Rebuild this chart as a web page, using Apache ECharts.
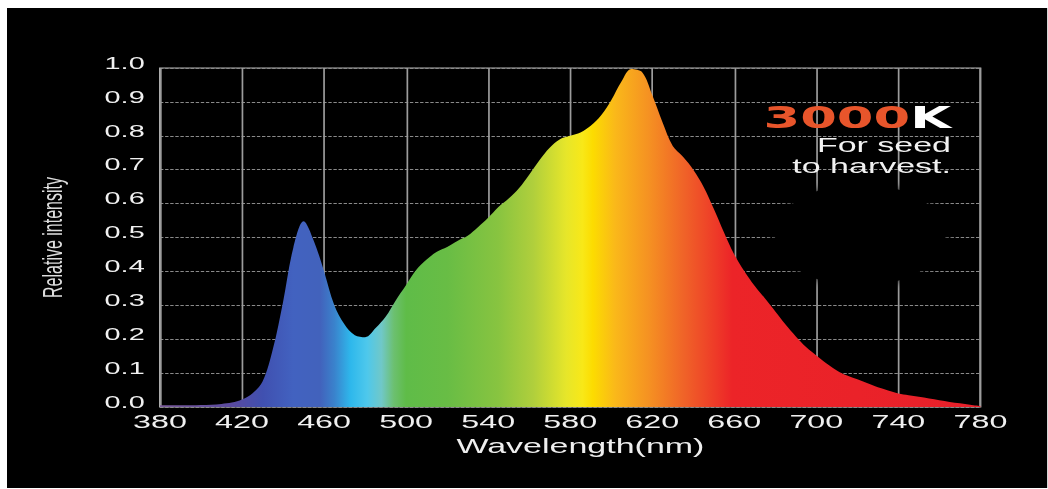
<!DOCTYPE html>
<html><head><meta charset="utf-8">
<script src="https://cdn.jsdelivr.net/npm/echarts@6/dist/echarts.min.js"></script>
<style>
html,body{margin:0;padding:0;background:#fff;width:1048px;height:489px;overflow:hidden;}
#chart{position:absolute;left:7px;top:8px;height:480px;transform-origin:0 0;}
</style></head><body><div id="chart"></div>
<script>
// ---- data ----
const wavelengths = [380,385,390,395,400,405,410,415,420,425,430,435,440,445,450,455,460,465,470,475,
  480,485,490,495,500,505,510,515,520,525,530,535,540,545,550,555,560,565,570,575,
  580,585,590,595,600,605,610,615,620,625,630,635,640,645,650,655,660,665,670,675,
  680,685,690,695,700,705,710,715,720,725,730,735,740,745,750,755,760,765,770,775,780];
const intensity = [0.005,0.005,0.005,0.005,0.006,0.007,0.009,0.013,0.022,0.040,0.075,0.170,0.310,0.470,0.548,0.490,0.400,0.300,0.243,0.212,
  0.206,0.232,0.266,0.315,0.360,0.405,0.435,0.458,0.472,0.490,0.505,0.530,0.558,0.590,0.615,0.645,0.685,0.728,0.765,0.790,
  0.800,0.810,0.830,0.860,0.905,0.960,0.997,0.988,0.920,0.840,0.770,0.738,0.700,0.650,0.585,0.515,0.450,0.400,0.357,0.320,
  0.282,0.243,0.208,0.177,0.152,0.128,0.108,0.093,0.082,0.070,0.058,0.049,0.040,0.035,0.030,0.025,0.020,0.015,0.011,0.007,0.003];
const xAxisTitle = 'Wavelength(nm)';
const yAxisTitle = 'Relative intensity';
const badgeNumber = '3000';
const badgeUnit = 'K';
const subtitleLines = ['For seed', 'to harvest.'];

// ---- styles ----
const spectrumStops = [
  [380,'#7a5a9a'],[415,'#5a4aa0'],[430,'#4050b0'],[445,'#4262c0'],[458,'#4262bc'],[465,'#3a82cc'],
  [473,'#2eb8ec'],[481,'#4ec8ec'],[488,'#70c8c8'],[494,'#6cc070'],[500,'#5fbc48'],[520,'#68bd45'],
  [545,'#88c440'],[562,'#b0cf3c'],[578,'#e6e62a'],[586,'#f8e818'],[591,'#fcdc00'],[602,'#fab81a'],
  [618,'#f59222'],[635,'#f06428'],[651,'#ee3a28'],[659,'#ec2428'],[780,'#e8202a']
];
const S = 1.7;            // horizontal stretch of the reference picture
const W = 1041 / S;
const el = document.getElementById('chart');
el.style.width = W + 'px';
el.style.transform = 'scaleX(' + S + ')';
const sx = X => (X - 7) / S;
const sy = Y => Y - 8;

const chart = echarts.init(el, null, {renderer: 'svg'});
const seriesData = wavelengths.map((w, i) => [w, intensity[i]]);
const plotLeft = sx(160), plotRight = sx(981);

chart.setOption({
  backgroundColor: '#000',
  animation: false,
  grid: {left: plotLeft, right: W - plotRight, top: sy(68), bottom: 480 - sy(407),
         show: true, borderColor: '#b8b8b8', borderWidth: 1.1, backgroundColor: 'transparent'},
  xAxis: {
    type: 'value', min: 380, max: 780, interval: 40,
    name: xAxisTitle, nameLocation: 'middle', nameGap: 23,
    nameTextStyle: {color: '#eeeeee', fontSize: 20, fontFamily: 'Liberation Sans', padding: [0,0,0,12]},
    axisLine: {show: false}, axisTick: {show: false},
    axisLabel: {color: '#f0f0f0', fontSize: 19, fontFamily: 'Liberation Sans', margin: 5},
    splitLine: {show: true, lineStyle: {color: '#9c9c9c', width: 1, type: 'solid'}}
  },
  yAxis: {
    type: 'value', min: 0, max: 1, interval: 0.1,
    name: yAxisTitle, nameLocation: 'middle', nameGap: 55, nameRotate: 90,
    nameTextStyle: {color: '#dddddd', fontSize: 16, fontFamily: 'Liberation Sans'},
    axisLine: {show: false}, axisTick: {show: false},
    axisLabel: {color: '#f0f0f0', fontSize: 17, fontFamily: 'Liberation Sans', margin: 9,
                verticalAlign: 'bottom', lineHeight: 10, formatter: v => v.toFixed(1)},
    splitLine: {show: true, lineStyle: {color: '#8a8a8a', width: 1, type: [2,1]}}
  },
  series: [{
    type: 'line', data: seriesData, smooth: 0.35, symbol: 'none', z: 2,
    lineStyle: {width: 0, opacity: 0},
    areaStyle: {opacity: 1, color: new echarts.graphic.LinearGradient(0, 0, 1, 0,
      spectrumStops.map(s => ({offset: (s[0] - 380) / 400, color: s[1]})))}
  }],
  graphic: [
    {type: 'ellipse', z: 3, shape: {cx: sx(860), cy: sy(235), rx: 50, ry: 51},
     style: {fill: '#000', shadowBlur: 8, shadowColor: '#000'}},
    {type: 'text', z: 10, x: sx(951), y: sy(117.5),
     style: {text: '{a|' + badgeNumber + '}{b|' + badgeUnit + '}', align: 'right', verticalAlign: 'middle',
       fontFamily: 'DejaVu Sans', fontSize: 31, fontWeight: 'bold',
       rich: {a: {fill: '#e8552b', fontFamily: 'DejaVu Sans', fontSize: 31, fontWeight: 'bold'},
              b: {fill: '#ffffff', fontFamily: 'DejaVu Sans', fontSize: 31, fontWeight: 'bold'}}}},
    {type: 'text', z: 10, x: sx(951), y: sy(145.5),
     style: {text: subtitleLines[0], align: 'right', verticalAlign: 'middle', fill: '#f2f2f2',
       fontFamily: 'Liberation Sans', fontSize: 20}},
    {type: 'text', z: 10, x: sx(951), y: sy(166.5),
     style: {text: subtitleLines[1], align: 'right', verticalAlign: 'middle', fill: '#f2f2f2',
       fontFamily: 'Liberation Sans', fontSize: 20}}
  ]
});
</script></body></html>
